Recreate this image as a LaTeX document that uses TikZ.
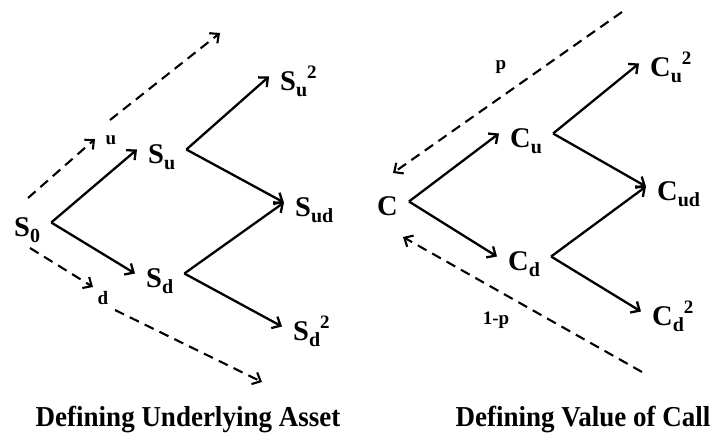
\documentclass[tikz,border=0pt]{standalone}
\usepackage{fontspec}
\setmainfont{Liberation Serif}
\usetikzlibrary{arrows.meta}

% sub- and superscripts of the tree values
\newcommand{\lo}[1]{\raisebox{-6pt}{\fontsize{20}{20}\selectfont #1}}
\newcommand{\hi}[1]{\raisebox{12pt}{\fontsize{19}{19}\selectfont #1}}

\begin{document}
\begin{tikzpicture}[x=1pt, y=-1pt,
    % --- node styles ---
    val/.style={anchor=base west, inner xsep=11pt, inner ysep=0pt,
        text height=28pt, text depth=1pt,
        font=\fontsize{28.5}{28.5}\selectfont\bfseries},
    tag/.style={inner sep=0pt, font=\fontsize{19}{19}\selectfont\bfseries},
    ttl/.style={anchor=base, inner sep=0pt,
        font=\fontsize{27}{27}\selectfont\bfseries},
    % --- arrow styles ---
    arr/.style={-{Straight Barb[length=7pt,width=13pt]}, line width=2.3pt},
    prob/.style={arr, line width=2.1pt, dash pattern=on 10pt off 6.5pt}
]
\path[use as bounding box, fill=white] (0,0) rectangle (715,436);

%%% ================= UNDERLYING ASSET =================
\node (s0)  [val] at (3,236)   {S\lo{0}};
\node (su)  [val] at (137,163) {S\lo{u}};
\node (sd)  [val] at (135,287) {S\lo{d}};
\node (suu) [val] at (269,90)  {S\lo{u}\hi{2}};
\node (sud) [val] at (284,216) {S\lo{ud}};
\node (sdd) [val] at (282,340) {S\lo{d}\hi{2}};

%%% ================= VALUE OF CALL =================
\node (c0)  [val] at (366,215) {C};
\node (cu)  [val] at (499,147) {C\lo{u}};
\node (cd)  [val] at (497,270) {C\lo{d}};
\node (cuu) [val] at (639,77)  {C\lo{u}\hi{2}};
\node (cud) [val] at (646,200) {C\lo{ud}};
\node (cdd) [val] at (641,325) {C\lo{d}\hi{2}};

%%% ================= TITLES =================
\node (ttlS) [ttl] at (188,426) {\scalebox{1}[1.07]{Defining Underlying Asset}};
\node (ttlC) [ttl] at (583,426) {\scalebox{1}[1.07]{Defining Value of Call}};

%%% ================= SETAS =================
%% asset tree
\draw [arr] (s0.east) -- (su.west);
\draw [arr] (s0.east) -- (sd.west);
\draw [arr] (su.east) -- (suu.west);
\draw [arr] (su.east) -- (sud.west);
\draw [arr] (sd.east) -- (sud.west);
\draw [arr] (sd.east) -- (sdd.west);

%% call tree
\draw [arr] (c0.east) -- (cu.west);
\draw [arr] (c0.east) -- (cd.west);
\draw [arr] (cu.east) -- (cuu.west);
\draw [arr] (cu.east) -- (cud.west);
\draw [arr] (cd.east) -- (cud.west);
\draw [arr] (cd.east) -- (cdd.west);

%% up / down moves
\coordinate (u1) at (28,198);  \coordinate (u2) at (95,139);
\coordinate (u3) at (110,120); \coordinate (u4) at (220,33);
\coordinate (d1) at (30,248);  \coordinate (d2) at (93,287);
\coordinate (d3) at (115,310); \coordinate (d4) at (262,382);
\draw [prob] (u1) -- (u2);
\draw [prob] (u3) -- (u4);
\draw [prob] (d1) -- (d2);
\draw [prob] (d3) -- (d4);
\node (tu) [tag] at (111,140) {u};
\node (td) [tag] at (103,298) {d};

%% probabilities back to C
\coordinate (p1) at (622,12);  \coordinate (p2) at (393,173);
\coordinate (q1) at (642,372); \coordinate (q2) at (403,237);
\draw [prob] (p1) -- (p2);
\draw [prob] (q1) -- (q2);
\node (tp) [tag] at (501,67)  {p};
\node (tq) [tag] at (496,320) {1-p};

\end{tikzpicture}
\end{document}
